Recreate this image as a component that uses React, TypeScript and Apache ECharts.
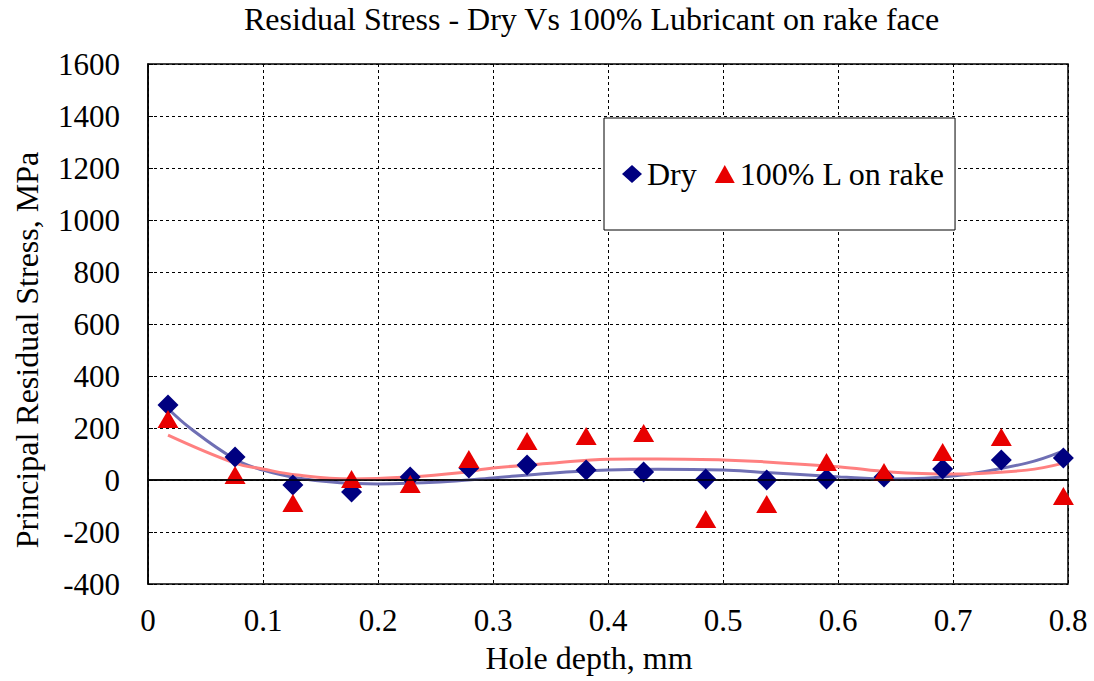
import React, { useEffect, useRef } from "react";
import * as echarts from "echarts";

const titleText = "Residual Stress - Dry Vs 100% Lubricant on rake face";
const xName = "Hole depth, mm";
const yName = "Principal Residual Stress, MPa";

const dryX = [0.0174, 0.0757, 0.126, 0.177, 0.228, 0.279, 0.3296, 0.381, 0.431, 0.485, 0.538, 0.59, 0.64, 0.691, 0.742, 0.796];
const dryY = [288, 88, -19, -46, 12, 46, 58, 38, 31, 4, 0, 4, 12, 42, 77, 85];
const lubX = [0.0174, 0.0757, 0.126, 0.177, 0.228, 0.279, 0.3296, 0.381, 0.431, 0.485, 0.538, 0.59, 0.64, 0.691, 0.742, 0.796];
const lubY = [235, 19, -88, 4, -15, 81, 150, 169, 181, -150, -92, 69, 31, 108, 165, -62];

const dryTrendX = [0.0174, 0.0365, 0.0757, 0.1, 0.13, 0.167, 0.2, 0.254, 0.3, 0.35, 0.4, 0.443, 0.5, 0.532, 0.602, 0.645, 0.7, 0.764, 0.796];
const dryTrendY = [275, 200, 80, 38, 8, -11, -15, -8, 8, 26, 38, 41, 38, 30, 12, 4, 15, 65, 112];
const lubTrendX = [0.0174, 0.0757, 0.1, 0.13, 0.177, 0.228, 0.271, 0.3, 0.35, 0.4, 0.443, 0.5, 0.532, 0.602, 0.645, 0.7, 0.764, 0.796];
const lubTrendY = [173, 65, 42, 19, 4, 12, 28, 46, 64, 80, 81, 77, 71, 50, 31, 23, 38, 65];

const FONT = "Liberation Serif";

function zip(xs: number[], ys: number[]) {
  return xs.map((x, i) => [x, ys[i]]);
}

export default function App() {
  const ref = useRef<HTMLDivElement>(null);
  useEffect(() => {
    if (!ref.current) return;
    const chart = echarts.init(ref.current, undefined, { renderer: "svg" });
    chart.setOption({
      animation: false,
      backgroundColor: "#fff",
      textStyle: { fontFamily: FONT, color: "#000" },
      title: {
        text: titleText,
        left: 239,
        top: -2,
        textStyle: { fontFamily: FONT, fontSize: 32, fontWeight: "normal", color: "#000" },
      },
      legend: {
        data: ["Dry", "100% L on rake"],
        left: 604,
        top: 118,
        orient: "horizontal",
        backgroundColor: "#fff",
        borderColor: "#000",
        borderWidth: 1,
        padding: [40, 10, 40, 18],
        itemGap: 18,
        itemWidth: 20,
        itemHeight: 18,
        textStyle: { fontFamily: FONT, fontSize: 32, color: "#000" },
      },
      grid: {
        left: 148,
        top: 64,
        width: 920,
        height: 520,
        show: true,
        borderColor: "#000",
        borderWidth: 1.5,
        backgroundColor: "#fff",
      },
      xAxis: {
        type: "value",
        min: 0,
        max: 0.8,
        interval: 0.1,
        name: xName,
        nameLocation: "middle",
        nameGap: 58,
        nameTextStyle: { fontFamily: FONT, fontSize: 32, color: "#000", padding: [0, 38, 0, 0] },
        axisLine: { show: true, lineStyle: { color: "#000", width: 1.5 } },
        axisTick: { show: false },
        axisLabel: {
          fontFamily: FONT,
          fontSize: 31,
          color: "#000",
          margin: 21,
          formatter: (v: number) => String(+v.toFixed(1)),
        },
        splitLine: { show: true, lineStyle: { color: "#000", type: [3, 3], width: 1 } },
      },
      yAxis: {
        type: "value",
        min: -400,
        max: 1600,
        interval: 200,
        name: yName,
        nameLocation: "middle",
        nameGap: 105,
        nameTextStyle: { fontFamily: FONT, fontSize: 32, color: "#000", padding: [0, 52, 0, 0] },
        axisLine: { show: true, lineStyle: { color: "#000", width: 1.5 } },
        axisTick: { show: true, inside: true, length: 5, lineStyle: { color: "#000" } },
        axisLabel: {
          fontFamily: FONT,
          fontSize: 31,
          color: "#000",
          margin: 28,
          formatter: (v: number) => String(Math.round(v)),
        },
        splitLine: { show: true, lineStyle: { color: "#000", type: [3, 3], width: 1 } },
      },
      series: [
        {
          name: "Dry trend",
          type: "line",
          data: zip(dryTrendX, dryTrendY),
          smooth: 0.4,
          showSymbol: false,
          lineStyle: { color: "#6f6fb4", width: 3 },
          z: 2,
          markLine: {
            silent: true,
            symbol: "none",
            label: { show: false },
            lineStyle: { color: "#000", type: "solid", width: 1.5 },
            data: [{ yAxis: 0 }],
          },
        },
        {
          name: "Lub trend",
          type: "line",
          data: zip(lubTrendX, lubTrendY),
          smooth: 0.4,
          showSymbol: false,
          lineStyle: { color: "#ff8080", width: 3 },
          z: 2,
        },
        {
          name: "Dry",
          type: "scatter",
          data: zip(dryX, dryY),
          symbol: "diamond",
          symbolSize: [21, 21],
          itemStyle: { color: "#000080", opacity: 1 },
          z: 3,
        },
        {
          name: "100% L on rake",
          type: "scatter",
          data: zip(lubX, lubY),
          symbol: "triangle",
          symbolSize: [21, 18],
          itemStyle: { color: "#e80000", opacity: 1 },
          z: 4,
        },
      ],
    });
    return () => chart.dispose();
  }, []);
  return (
    <div
      ref={ref}
      style={{ position: "fixed", left: 0, top: 0, width: 1094, height: 681, background: "#fff" }}
    />
  );
}
